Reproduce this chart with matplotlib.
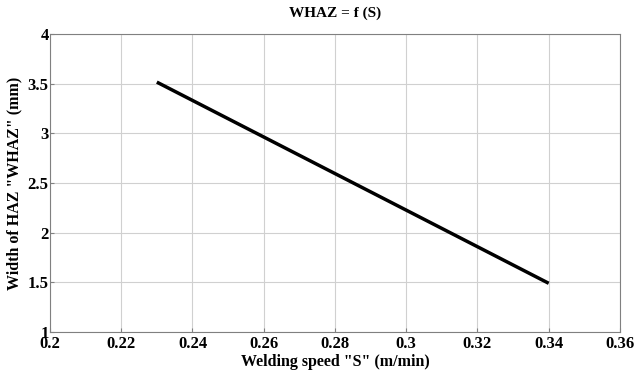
import matplotlib
matplotlib.use('Agg')
import matplotlib.pyplot as plt

# welding speed vs width of HAZ
speed = [0.23, 0.34]
whaz = [3.515, 1.49]

plt.rcParams['font.family'] = ['Liberation Serif', 'DejaVu Serif']
plt.rcParams['font.weight'] = 'bold'

fig = plt.figure(figsize=(6.35, 3.73), dpi=100)
ax = fig.add_axes([0.0787, 0.110, 0.8976, 0.799])

ax.plot(speed, whaz, color='black', linewidth=2.5, solid_capstyle='butt')

ax.set_xlim(0.2, 0.36)
ax.set_ylim(1, 4)
ax.set_xticks([0.2, 0.22, 0.24, 0.26, 0.28, 0.3, 0.32, 0.34, 0.36])
ax.set_xticklabels(['0.2', '0.22', '0.24', '0.26', '0.28', '0.3', '0.32', '0.34', '0.36'])
ax.set_yticks([1, 1.5, 2, 2.5, 3, 3.5, 4])
ax.set_yticklabels(['1', '1.5', '2', '2.5', '3', '3.5', '4'])
ax.grid(True, color='#d0d0d0', linewidth=0.8)
ax.tick_params(direction='in', length=3, color='#808080', labelsize=12)
ax.tick_params(axis='x', pad=3)
ax.tick_params(axis='y', pad=1)
for s in ax.spines.values():
    s.set_color('#808080')
    s.set_linewidth(0.8)

ax.set_title('WHAZ = f (S)', fontsize=11, fontweight='bold', pad=12)
ax.set_xlabel('Welding speed "S" (m/min)', fontsize=11.5, fontweight='bold', labelpad=1)
ax.set_ylabel('Width of HAZ "WHAZ" (mm)', fontsize=11.5, fontweight='bold', labelpad=4)

fig.savefig('out.png', dpi=100)
